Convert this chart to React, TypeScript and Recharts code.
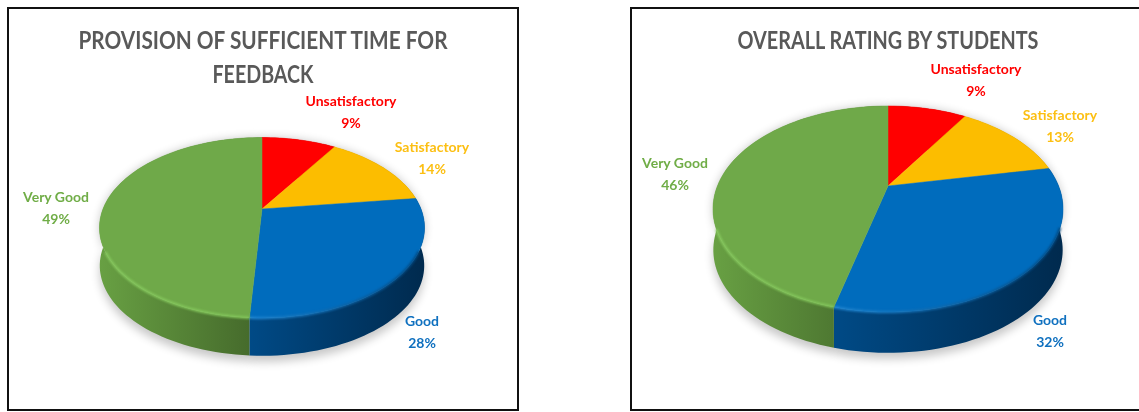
import { Pie, PieChart } from "recharts";

const CATEGORIES = ["Unsatisfactory", "Satisfactory", "Good", "Very Good"];
const FEEDBACK_VALUES = [9, 14, 28, 49];
const OVERALL_VALUES = [9, 13, 32, 46];

const TOP_COLORS = ["#ff0000", "#fcbd00", "#006cbd", "#6fa949"];
const LABEL_COLORS = ["#ff0000", "#fcbf12", "#0f70bf", "#70ad47"];
const RIM_LEFT = ["#ff5050", "#ffd050", "#1f86d2", "#86c85e"];
const RIM_RIGHT = ["#ff5050", "#ffd050", "#00477f", "#82c65a"];
const WALL_LEFT = ["#c00000", "#c09000", "#004a86", "#68a043"];
const WALL_RIGHT = ["#900000", "#907000", "#002a4e", "#43672a"];

const FEEDBACK_TITLE = ["PROVISION OF SUFFICIENT TIME FOR", "FEEDBACK"];
const OVERALL_TITLE = ["OVERALL RATING BY STUDENTS"];

const FONT = "Lato, 'Open Sans', sans-serif";

type Panel = {
  id: string;
  left: number;
  top: number;
  width: number;
  height: number;
  cx: number;
  cy: number;
  radius: number;
  squash: number; // vertical scale of the tilted disc
  tilt: number; // perspective term
  depth: number;
  titleX: number;
  titleY: number;
  titleWidths: number[];
  labelAt: number[][];
};

// rim point of the tilted disc, angle in recharts degrees
function rimPoint(p: any, g: Panel, angle: number, dy = 0, shrink = 1) {
  const rad = (angle * Math.PI) / 180;
  const u = Math.cos(rad);
  const v = Math.sin(rad);
  const d = 1 + g.tilt * v;
  return [
    p.cx + (p.outerRadius * shrink * u) / d,
    p.cy - (g.squash * shrink * v) / d + dy,
  ];
}

function arcPoints(p: any, g: Panel, dy = 0, shrink = 1) {
  const steps = Math.max(2, Math.ceil(Math.abs(p.endAngle - p.startAngle) / 2));
  const pts: number[][] = [];
  for (let i = 0; i <= steps; i++) {
    const a = p.startAngle + ((p.endAngle - p.startAngle) * i) / steps;
    pts.push(rimPoint(p, g, a, dy, shrink));
  }
  return pts;
}

const toPath = (pts: number[][]) =>
  pts.map((q, i) => `${i ? "L" : "M"}${q[0].toFixed(2)},${q[1].toFixed(2)}`).join(" ");

function wallPath(p: any, g: Panel, extra = 0) {
  const upper = arcPoints(p, g);
  const lower = arcPoints(p, g, g.depth + extra, 0.998).reverse();
  return toPath(upper.concat(lower)) + " Z";
}

function ShadowSlice(props: any, g: Panel) {
  return (
    <path d={wallPath(props, g, 6)} fill="#000" opacity={0.22} style={{ filter: "blur(5px)" }} />
  );
}

function WallSlice(props: any, g: Panel) {
  const i = CATEGORIES.indexOf(props.name);
  const id = `${g.id}-wall-${i}`;
  return (
    <g>
      <defs>
        <linearGradient id={id} x1="0" x2="1" y1="0" y2="0">
          <stop offset="0%" stopColor={WALL_LEFT[i]} />
          <stop offset="100%" stopColor={WALL_RIGHT[i]} />
        </linearGradient>
      </defs>
      <path d={wallPath(props, g)} fill={`url(#${id})`} />
    </g>
  );
}

function TopSlice(props: any, g: Panel) {
  const i = CATEGORIES.indexOf(props.name);
  const arc = arcPoints(props, g);
  const d = `M${props.cx},${props.cy} ${toPath(arc).replace("M", "L")} Z`;
  // highlight only along the front of the rim
  const front = arc.filter((q) => q[1] > props.cy + 40);
  const id = `${g.id}-rim-${i}`;
  return (
    <g>
      <defs>
        <linearGradient id={id} x1="0" x2="1" y1="0" y2="0">
          <stop offset="0%" stopColor={RIM_LEFT[i]} />
          <stop offset="100%" stopColor={RIM_RIGHT[i]} />
        </linearGradient>
      </defs>
      <path d={d} fill={TOP_COLORS[i]} stroke={TOP_COLORS[i]} strokeWidth={0.5} />
      {front.length > 1 && (
        <path
          d={toPath(front)}
          fill="none"
          stroke={`url(#${id})`}
          strokeWidth={2.5}
          style={{ filter: "blur(1px)" }}
        />
      )}
    </g>
  );
}

function RatingPie({ values, title, g }: { values: number[]; title: string[]; g: Panel }) {
  const rows = CATEGORIES.map((name, i) => ({ name, value: values[i] }));

  const renderLabel = (p: any) => {
    const i = CATEGORIES.indexOf(p.name);
    const [x, y] = g.labelAt[i];
    return (
      <text
        key={p.name}
        x={x}
        y={y}
        textAnchor="middle"
        fontFamily={FONT}
        fontWeight={700}
        fontSize={14}
        fill={LABEL_COLORS[i]}
      >
        <tspan x={x}>{p.name}</tspan>
        <tspan x={x} dy={21.5}>{`${p.value}%`}</tspan>
      </text>
    );
  };

  const pieProps = {
    data: rows,
    dataKey: "value",
    nameKey: "name",
    cx: g.cx,
    cy: g.cy,
    outerRadius: g.radius,
    startAngle: 90,
    endAngle: -270,
    stroke: "none",
    isAnimationActive: false,
  };

  return (
    <div style={{ position: "absolute", left: g.left, top: g.top, width: g.width, height: g.height }}>
      <PieChart width={g.width} height={g.height} margin={{ top: 0, right: 0, bottom: 0, left: 0 }}>
        {title.map((line, i) => (
          <text
            key={line}
            x={g.titleX}
            y={g.titleY + i * 34}
            textAnchor="middle"
            textLength={g.titleWidths[i]}
            lengthAdjust="spacingAndGlyphs"
            fontFamily={FONT}
            fontWeight={700}
            fontSize={24}
            fill="#595959"
          >
            {line}
          </text>
        ))}
        <Pie {...pieProps} shape={(p: any) => ShadowSlice(p, g)} />
        <Pie {...pieProps} shape={(p: any) => WallSlice(p, g)} />
        <Pie {...pieProps} shape={(p: any) => TopSlice(p, g)} label={renderLabel} labelLine={false} />
      </PieChart>
      <div
        style={{
          position: "absolute",
          inset: 0,
          border: "2px solid #111",
          boxSizing: "border-box",
          pointerEvents: "none",
        }}
      />
    </div>
  );
}

const LEFT_PANEL: Panel = {
  id: "feedback",
  left: 7,
  top: 7,
  width: 512,
  height: 404,
  cx: 255,
  cy: 202,
  radius: 159,
  squash: 86.35,
  tilt: 0.2077,
  depth: 38,
  titleX: 256,
  titleY: 42,
  titleWidths: [369, 101],
  labelAt: [
    [344, 99],
    [425, 145],
    [415, 319],
    [49, 195],
  ],
};

const RIGHT_PANEL: Panel = {
  id: "overall",
  left: 630,
  top: 7,
  width: 515,
  height: 404,
  cx: 258,
  cy: 179,
  radius: 170.6,
  squash: 97.9,
  tilt: 0.2235,
  depth: 41,
  titleX: 258,
  titleY: 42,
  titleWidths: [301],
  labelAt: [
    [346, 67],
    [430, 113],
    [420, 318],
    [45, 161],
  ],
};

export default function App() {
  return (
    <div
      style={{
        position: "absolute",
        left: 0,
        top: 0,
        width: 1139,
        height: 412,
        overflow: "hidden",
        background: "#fff",
        filter: "blur(0.5px)",
      }}
    >
      <RatingPie values={FEEDBACK_VALUES} title={FEEDBACK_TITLE} g={LEFT_PANEL} />
      <RatingPie values={OVERALL_VALUES} title={OVERALL_TITLE} g={RIGHT_PANEL} />
    </div>
  );
}
